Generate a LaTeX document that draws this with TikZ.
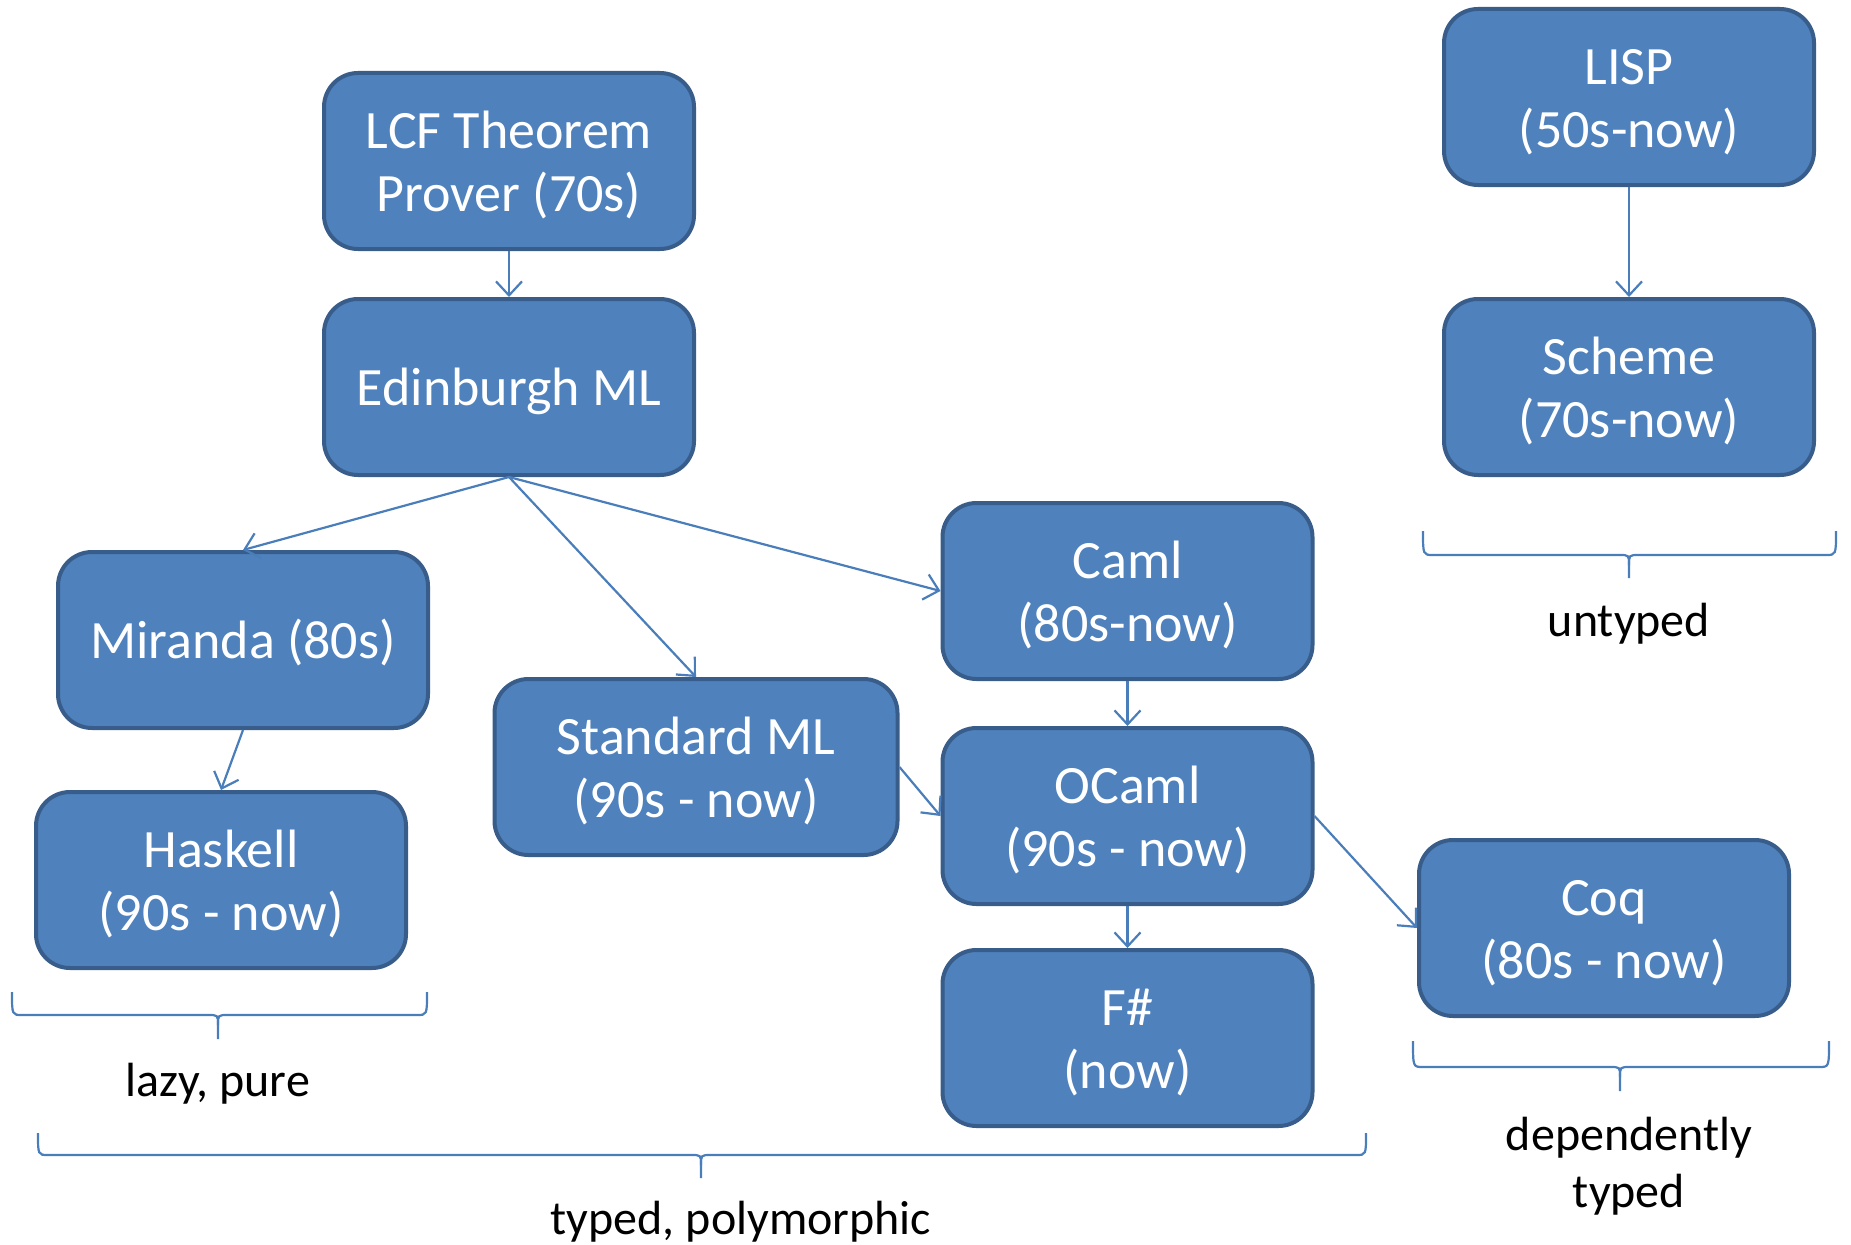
\documentclass[tikz,border=0pt]{standalone}
\usepackage{fontspec}
\setmainfont{Carlito}
\usetikzlibrary{arrows.meta}
\definecolor{boxfill}{HTML}{4F81BD}
\definecolor{boxline}{HTML}{385D8A}
\definecolor{lnk}{HTML}{4A7EBB}
\newcommand{\boxtext}[1]{\raisebox{-6pt}[\height][\depth]{\begin{tabular}{@{}c@{}}#1\end{tabular}}}
\tikzset{
  lang/.style={draw=boxline, line width=4pt, fill=boxfill, rounded corners=34pt,
    minimum width=370pt, minimum height=176pt, text=white,
    font=\fontsize{54}{63}\selectfont, inner sep=0pt},
  conn/.style={draw=lnk, line width=2.2pt, -{Straight Barb[length=14pt,width=26pt,line width=2.2pt]}},
  brace/.style={draw=lnk, line width=2.2pt},
  lbl/.style={text=black, align=center, font=\fontsize{48}{57}\selectfont, inner sep=0pt}
}
\begin{document}
\begin{tikzpicture}[x=1pt, y=-1pt]
\useasboundingbox (0,0) rectangle (1851,1244);
\node[lang] (lcf) at (509,161) {\boxtext{LCF Theorem\\Prover (70s)}};
\node[lang] (edml) at (509,387) {\boxtext{Edinburgh ML}};
\node[lang] (lisp) at (1629,97) {\boxtext{LISP\\(50s-now)}};
\node[lang] (scheme) at (1629,387) {\boxtext{Scheme\\(70s-now)}};
\node[lang] (miranda) at (243,640) {\boxtext{Miranda (80s)}};
\node[lang] (caml) at (1127.5,591) {\boxtext{Caml\\(80s-now)}};
\node[lang, minimum width=403pt] (sml) at (696,767) {\boxtext{Standard ML\\(90s - now)}};
\node[lang] (ocaml) at (1127.5,816) {\boxtext{OCaml\\(90s - now)}};
\node[lang] (haskell) at (221,880) {\boxtext{Haskell\\(90s - now)}};
\node[lang] (coq) at (1604,928) {\boxtext{Coq\\(80s - now)}};
\node[lang] (fsharp) at (1127.5,1038) {\boxtext{F\#\\(now)}};

\draw[conn] (lcf.south) -- (edml.north);
\draw[conn] (lisp.south) -- (scheme.north);
\draw[conn] (edml.south) -- (miranda.north);
\draw[conn] (edml.south) -- (sml.north);
\draw[conn] (edml.south) -- (caml.west);
\draw[conn] (miranda.south) -- (haskell.north);
\draw[conn] (caml.south) -- (ocaml.north);
\draw[conn] (sml.east) -- (ocaml.west);
\draw[conn] (ocaml.east) -- (coq.west);
\draw[conn] (ocaml.south) -- (fsharp.north);

% braces
\draw[brace] (12,992) .. controls (12,1015) .. (22,1015) -- (208,1015) .. controls (218,1015) .. (218,1025) -- (218,1039);
\draw[brace] (427,992) .. controls (427,1015) .. (417,1015) -- (228,1015) .. controls (218,1015) .. (218,1025);
\node[lbl] (lazy) at (218,1084) {lazy, pure};

\draw[brace] (38,1133) .. controls (38,1155) .. (48,1155) -- (691,1155) .. controls (701,1155) .. (701,1165) -- (701,1178);
\draw[brace] (1366,1133) .. controls (1366,1155) .. (1356,1155) -- (711,1155) .. controls (701,1155) .. (701,1165);
\node[lbl] (typed) at (741,1222) {typed, polymorphic};

\draw[brace] (1423,531) .. controls (1423,555) .. (1433,555) -- (1619,555) .. controls (1629,555) .. (1629,565) -- (1629,578);
\draw[brace] (1836,531) .. controls (1836,555) .. (1826,555) -- (1639,555) .. controls (1629,555) .. (1629,565);
\node[lbl] (untyped) at (1629,624) {untyped};

\draw[brace] (1413,1041) .. controls (1413,1067) .. (1423,1067) -- (1610,1067) .. controls (1620,1067) .. (1620,1077) -- (1620,1091);
\draw[brace] (1829,1041) .. controls (1829,1067) .. (1819,1067) -- (1630,1067) .. controls (1620,1067) .. (1620,1077);
\node[lbl] (dep) at (1629,1166) {dependently\\typed};
\end{tikzpicture}
\end{document}
